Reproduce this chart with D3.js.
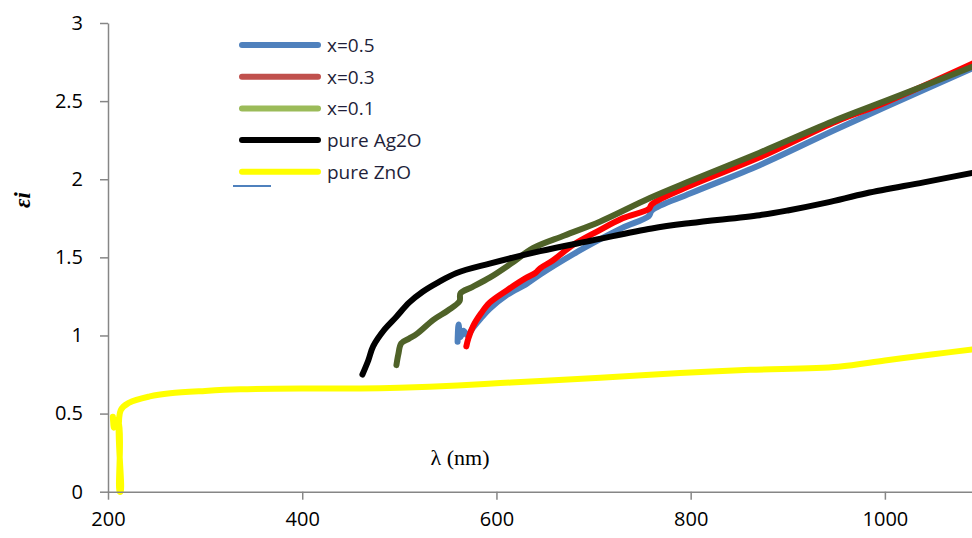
<html>
    <head>
        <title>Dielectric imaginary part</title>
        <style>
            body { margin: 0; background: white; }
            .tick text { font-family: "Open Sans", sans-serif; font-size: 20px; fill: #000; }
            .axis path, .axis line { stroke: #868686; stroke-width: 1.5px; }
        </style>
    </head>
    <body>
        <svg id="container" width="972" height="538">
            <g id="lines"></g>
            <g id="xAxis" class="axis"></g>
            <g id="yAxis" class="axis"></g>
            <g id="legend"></g>
        </svg>
    </body>
    <script src="https://d3js.org/d3.v7.min.js"></script>
    <script>
        // values: [wavelength nm, eps_i]
        let x05 = [[560,0.96],[561,1.07],[563,0.99],[566,1.03],[570,1.00],[576,1.05],[584,1.11],[593,1.17],[611,1.26],[631,1.33],
                   [645,1.39],[679,1.52],[705,1.61],[730,1.69],[757,1.765],[760,1.80],[800,1.91],[871,2.09],[950,2.32],[1000,2.46],[1090,2.71]]
        let x03 = [[569,0.93],[571,0.98],[576,1.06],[584,1.14],[593,1.21],[611,1.29],[631,1.37],[640,1.40],[645,1.43],[658,1.48],
                   [679,1.58],[705,1.67],[730,1.75],[757,1.81],[760,1.84],[800,1.96],[871,2.14],[950,2.37],[1000,2.49],[1090,2.74]]
        let x01 = [[497,0.81],[499,0.88],[502,0.95],[510,0.98],[518,1.01],[535,1.10],[550,1.16],[562,1.22],[563,1.27],[575,1.31],
                   [593,1.37],[615,1.46],[638,1.56],[670,1.64],[707,1.73],[758,1.88],[800,1.99],[871,2.17],[950,2.38],[1000,2.50],[1090,2.72]]
        let ag2o = [[462,0.75],[468,0.84],[473,0.93],[485,1.04],[497,1.12],[510,1.21],[524,1.28],[540,1.34],[559,1.40],[593,1.46],
                    [645,1.54],[700,1.61],[760,1.685],[800,1.72],[871,1.77],[900,1.80],[940,1.85],[981,1.91],[1040,1.98],[1090,2.04]]
        let zno = [[205,0.48],[206,0.41],[207,0.46],[211,0.44],[212,0.0],[213,0.0],[213,0.52],[222,0.57],[243,0.61],[264,0.63],
                   [300,0.645],[336,0.655],[400,0.66],[460,0.66],[500,0.665],[560,0.68],[604,0.695],[650,0.71],[707,0.73],
                   [789,0.76],[861,0.78],[952,0.80],[1000,0.84],[1050,0.88],[1090,0.91]]

        let names = ["x=0.5", "x=0.3", "x=0.1", "pure Ag2O", "pure ZnO"]
        let lineColors = ["#4f81bd", "#ff0000", "#4f6228", "#000000", "#ffff00"]
        let legendColors = ["#4f81bd", "#c0504d", "#9bbb59", "#000000", "#ffff00"]
        let xTicks = [200, 400, 600, 800, 1000]
        let yTicks = [0, 0.5, 1, 1.5, 2, 2.5, 3]

        let series = [x05, x03, x01, ag2o, zno]
        let container = d3.select("#container")

        let xScale = d3.scaleLinear().domain([200, 1100]).range([108, 982])
        let yScale = d3.scaleLinear().domain([0, 3]).range([491.7, 23])

        let line = d3.line()
                     .x(d => xScale(d[0]))
                     .y(d => yScale(d[1]))
                     .curve(d3.curveCatmullRom.alpha(0.5))

        d3.select("#lines").selectAll("path")
            .data(series)
            .enter()
            .append("path")
            .attr("d", line)
            .style("fill", "none")
            .style("stroke", (d, i) => lineColors[i])
            .style("stroke-width", 6)
            .style("stroke-linejoin", "round")
            .style("stroke-linecap", "round")

        let xAxis = d3.axisBottom(xScale)
                      .tickValues(xTicks)
                      .tickSize(8)
                      .tickSizeOuter(0)
                      .tickPadding(12)
                      .tickFormat(d => String(d))
        d3.select("#xAxis")
            .attr("transform", "translate(0," + yScale(0) + ")")
            .call(xAxis)

        let yAxis = d3.axisLeft(yScale)
                      .tickValues(yTicks)
                      .tickSize(8)
                      .tickSizeOuter(0)
                      .tickPadding(17)
                      .tickFormat(d => String(d))
        d3.select("#yAxis")
            .attr("transform", "translate(108,0)")
            .call(yAxis)

        // axis titles
        container.append("text")
            .attr("x", 460)
            .attr("y", 465)
            .attr("text-anchor", "middle")
            .style("font-family", "Liberation Serif, serif")
            .style("font-size", "22px")
            .text("λ (nm)")

        container.append("text")
            .attr("transform", "translate(30,200) rotate(-90)")
            .attr("text-anchor", "middle")
            .style("font-family", "Liberation Serif, serif")
            .style("font-size", "23px")
            .style("font-weight", "bold")
            .style("font-style", "italic")
            .text("εi")

        // legend
        let legend = d3.select("#legend")
        let rows = legend.selectAll("g")
            .data(names)
            .enter()
            .append("g")
            .attr("transform", (d, i) => "translate(242," + (45 + i * 31.7) + ")")
        rows.append("line")
            .attr("x1", 0).attr("x2", 76)
            .style("stroke", (d, i) => legendColors[i])
            .style("stroke-width", 6)
            .style("stroke-linecap", "round")
        rows.append("text")
            .attr("x", 85)
            .attr("y", 7)
            .style("font-family", "Open Sans, sans-serif")
            .style("font-size", "19px")
            .style("fill", "#1f1f3a")
            .text(d => d)

        // small stray blue mark under the legend
        legend.append("line")
            .attr("x1", 233).attr("x2", 271)
            .attr("y1", 186).attr("y2", 186)
            .style("stroke", "#4f81bd")
            .style("stroke-width", 2)
    </script>
</html>
